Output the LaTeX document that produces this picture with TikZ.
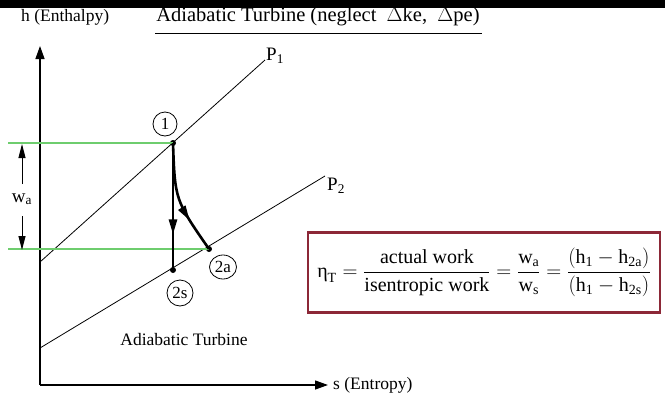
\documentclass[tikz,border=0pt]{standalone}
\usepackage{amsmath}
\usepackage{fontspec}
\setmainfont{Liberation Serif}
\usetikzlibrary{arrows.meta,decorations.markings,shapes.geometric}
\definecolor{gline}{RGB}{110,205,110}
\definecolor{boxred}{RGB}{140,40,55}
\tikzset{
  lbl/.style={font=\fontsize{17.5}{20}\selectfont, inner sep=0pt},
  axis/.style={line width=1.3pt, -{Triangle[length=13pt,width=9pt]}},
  pline/.style={line width=0.8pt},
  greenl/.style={gline, line width=1.3pt},
  proc/.style={line width=2.6pt},
  dotp/.style={circle, fill=black, inner sep=0pt, minimum size=6pt},
  cnum/.style={draw, circle, line width=0.8pt, inner sep=1pt, minimum size=24pt, font=\fontsize{17}{19}\selectfont},
  wtip/.style={line width=1pt, -{Triangle[length=14pt,width=7pt]}},
  midarrow/.style={decoration={markings, mark=at position #1 with {\arrow{Triangle[length=15pt,width=8pt]}}}, postaction={decorate}}
}
\begin{document}
\begin{tikzpicture}[x=1pt,y=-1pt]
\useasboundingbox (0,0) rectangle (665,402);
\fill[black] (0,0) rectangle (665,8);
% title
\node[font=\fontsize{20.5}{22}\selectfont, inner sep=0pt, anchor=base] (title) at (318,21) {Adiabatic Turbine (neglect\ \ $\Delta$ke,\ \ $\Delta$pe)};
\coordinate (ulA) at (155,33);
\coordinate (ulB) at (482,33);
\draw[line width=1pt] (ulA) -- (ulB);
% axes
\coordinate (O) at (40,385);
\coordinate (Ytip) at (40,46);
\coordinate (Xtip) at (328,385);
\draw[axis] (O) -- (Ytip);
\draw[axis] (O) -- (Xtip);
\node[lbl, anchor=west] (hlab) at (21,17) {h (Enthalpy)};
\node[lbl, anchor=west] (slab) at (333,385) {s (Entropy)};
% pressure lines
\coordinate (P1s) at (40,262);
\coordinate (P1e) at (265,60);
\coordinate (P2s) at (40,348);
\coordinate (P2e) at (325,176);
\draw[pline] (P1s) -- (P1e);
\draw[pline] (P2s) -- (P2e);
\node[lbl, font=\fontsize{19}{21}\selectfont, anchor=south west] (p1lab) at (266,64) {P\textsubscript{1}};
\node[lbl, font=\fontsize{19}{21}\selectfont, anchor=south west] (p2lab) at (327,194) {P\textsubscript{2}};
% states
\node[dotp] (s1) at (173,143) {};
\node[dotp] (s2s) at (173,270) {};
\node[dotp] (s2a) at (209,249) {};
% green lines
\coordinate (g1) at (8,143);
\coordinate (g2) at (8,249);
\draw[greenl] (g1) -- (s1.center);
\draw[greenl] (g2) -- (s2a.center);
% w_a
\node[lbl, font=\fontsize{19}{21}\selectfont] (wa) at (22,199) {w\textsubscript{a}};
\coordinate (waT) at (22,144);
\coordinate (waB) at (22,250);
\coordinate (waT0) at (22,184);
\coordinate (waB0) at (22,216);
\draw[wtip] (waT0) -- (waT);
\draw[wtip] (waB0) -- (waB);
% processes
\draw[proc, midarrow=0.72] (s1.center) -- (s2s.center);
\draw[proc, midarrow=0.7] (s1.center) .. controls (175,200) .. (s2a.center);
% circled labels
\node[cnum] (c1) at (165,124) {1};
\node[cnum, ellipse, minimum width=27pt, minimum height=24pt] (c2a) at (223,267) {2a};
\node[cnum, minimum width=26pt] (c2s) at (180,293) {2s};
\node[lbl] (adt) at (184,340) {Adiabatic Turbine};
% formula box
\node[draw=boxred, line width=2.6pt, minimum width=352pt, minimum height=80pt, inner sep=0pt, font=\fontsize{20}{22}\selectfont] (box) at (484,272.5)
{$\text{η}_{\text{T}} = \dfrac{\text{actual work}}{\text{isentropic work}} = \dfrac{\text{w}_{\text{a}}}{\text{w}_{\text{s}}} = \dfrac{(\text{h}_{\text{1}} - \text{h}_{\text{2a}})}{(\text{h}_{\text{1}} - \text{h}_{\text{2s}})}$};
\end{tikzpicture}
\end{document}
